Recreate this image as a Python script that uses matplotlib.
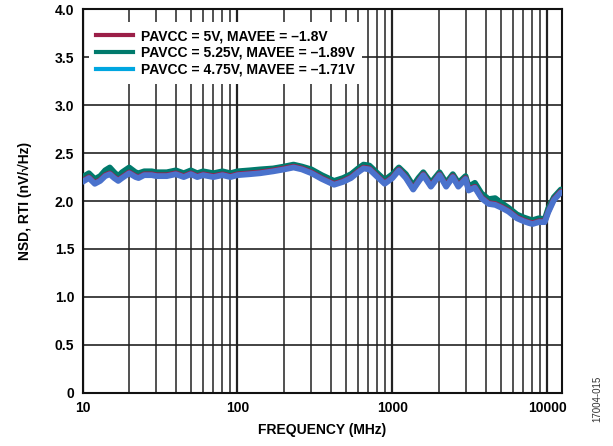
import numpy as np
import matplotlib
matplotlib.use("Agg")
import matplotlib.pyplot as plt
from matplotlib.lines import Line2D
from matplotlib.ticker import LogLocator, FixedLocator, NullFormatter

plt.rcParams['font.family'] = ['Liberation Sans', 'DejaVu Sans']
plt.rcParams['font.weight'] = 'bold'

# data
freq = [10, 11, 12, 13, 14, 15, 16, 17, 18, 20, 22, 23, 25, 28, 30, 35, 40, 45, 50, 55,
        60, 70, 80, 90, 100, 120, 140, 170, 200, 230, 260, 300, 350, 420, 480, 540, 600,
        650, 710, 800, 890, 1000, 1100, 1220, 1360, 1470, 1580, 1770, 2010, 2220, 2450,
        2660, 2960, 3100, 3400, 3750, 4170, 4600, 5050, 5600, 6350, 7000, 7600, 8000,
        8800, 9600, 10100, 11000, 12200]

nsd_475 = [2.20, 2.24, 2.18, 2.21, 2.26, 2.28, 2.24, 2.21, 2.24, 2.29, 2.25, 2.24, 2.27,
           2.27, 2.26, 2.26, 2.28, 2.25, 2.28, 2.25, 2.27, 2.25, 2.27, 2.25, 2.27, 2.28,
           2.29, 2.31, 2.33, 2.35, 2.33, 2.29, 2.23, 2.17, 2.20, 2.24, 2.30, 2.34, 2.33,
           2.25, 2.18, 2.24, 2.32, 2.24, 2.12, 2.20, 2.27, 2.15, 2.27, 2.15, 2.25, 2.15,
           2.23, 2.11, 2.14, 2.03, 1.97, 1.96, 1.93, 1.89, 1.82, 1.79, 1.77, 1.76, 1.78,
           1.78, 1.88, 2.01, 2.09]

nsd_5 = [2.21, 2.25, 2.19, 2.22, 2.27, 2.29, 2.25, 2.22, 2.25, 2.30, 2.26, 2.25, 2.28,
         2.28, 2.27, 2.27, 2.29, 2.26, 2.29, 2.26, 2.28, 2.26, 2.28, 2.26, 2.28, 2.29,
         2.30, 2.32, 2.34, 2.36, 2.34, 2.30, 2.24, 2.18, 2.21, 2.25, 2.31, 2.35, 2.34,
         2.26, 2.19, 2.25, 2.33, 2.25, 2.13, 2.21, 2.28, 2.16, 2.28, 2.16, 2.26, 2.16,
         2.24, 2.12, 2.15, 2.04, 1.98, 1.97, 1.94, 1.90, 1.83, 1.80, 1.78, 1.77, 1.79,
         1.79, 1.89, 2.02, 2.10]

nsd_525 = [2.25, 2.29, 2.23, 2.26, 2.32, 2.35, 2.30, 2.26, 2.30, 2.35, 2.30, 2.29, 2.31,
           2.31, 2.30, 2.30, 2.32, 2.29, 2.32, 2.29, 2.31, 2.29, 2.31, 2.29, 2.31, 2.32,
           2.33, 2.34, 2.36, 2.38, 2.36, 2.33, 2.27, 2.21, 2.24, 2.28, 2.34, 2.38, 2.37,
           2.29, 2.22, 2.28, 2.35, 2.28, 2.16, 2.24, 2.30, 2.19, 2.30, 2.19, 2.28, 2.19,
           2.26, 2.15, 2.19, 2.08, 2.02, 2.03, 1.98, 1.93, 1.86, 1.83, 1.81, 1.80, 1.82,
           1.81, 1.92, 2.04, 2.12]

labels = ['PAVCC = 5V, MAVEE = \u20131.8V',
          'PAVCC = 5.25V, MAVEE = \u20131.89V',
          'PAVCC = 4.75V, MAVEE = \u20131.71V']

fig = plt.figure(figsize=(6.13, 4.46), dpi=100)
ax = fig.add_axes([0.1346, 0.1195, 0.783, 0.8595])

ax.plot(freq, nsd_525, color='#007a6c', lw=4.2, solid_capstyle='round',
        solid_joinstyle='round', zorder=3)
ax.plot(freq, nsd_5, color='#9b1f48', lw=4.0, solid_capstyle='round',
        solid_joinstyle='round', zorder=4)
ax.plot(freq, nsd_475, color='#4a72cc', lw=4.2, solid_capstyle='round',
        solid_joinstyle='round', zorder=5)

ax.set_xscale('log')
ax.set_xlim(10, 12500)
ax.set_ylim(0, 4.0)

ax.xaxis.set_major_locator(FixedLocator([10, 100, 1000, 10000]))
ax.xaxis.set_minor_locator(LogLocator(base=10, subs=np.arange(2, 10), numticks=20))
ax.xaxis.set_minor_formatter(NullFormatter())
ax.set_xticks([10, 100, 1000, 10000])
ax.set_xticklabels(['10', '100', '1000', '10000'])
yt = [0, 0.5, 1.0, 1.5, 2.0, 2.5, 3.0, 3.5, 4.0]
ax.set_yticks(yt)
ax.set_yticklabels(['0'] + ['%.1f' % v for v in yt[1:]])

ax.grid(which='major', axis='x', color='#222222', lw=1.6, zorder=1)
ax.grid(which='minor', axis='x', color='#222222', lw=1.1, zorder=1)
ax.grid(which='major', axis='y', color='#222222', lw=1.2, zorder=1)
ax.tick_params(which='both', length=0, labelsize=10, pad=6)
for sp in ax.spines.values():
    sp.set_linewidth(1.5)
    sp.set_color('#111111')

ax.set_xlabel('FREQUENCY (MHz)', fontsize=10, fontweight='bold', labelpad=6)
ax.set_ylabel('NSD, RTI (nV/\u221aHz)', fontsize=10, fontweight='bold', labelpad=16)

handles = [Line2D([], [], color='#9b1f48', lw=3),
           Line2D([], [], color='#007a6c', lw=3),
           Line2D([], [], color='#00a6e0', lw=3)]
leg = ax.legend(handles, labels, loc='upper left', bbox_to_anchor=(0.0, 0.985),
                frameon=True, fancybox=False, framealpha=1, edgecolor='none',
                prop={'weight': 'bold', 'size': 10}, handlelength=2.6,
                labelspacing=0.2, borderpad=0.5, handletextpad=0.6)
leg.set_zorder(6)

fig.text(0.975, 0.105, '17004-015', rotation=90, fontsize=7, fontweight='normal',
         color='#333333', ha='center', va='center')

fig.savefig('out.png', dpi=100)
